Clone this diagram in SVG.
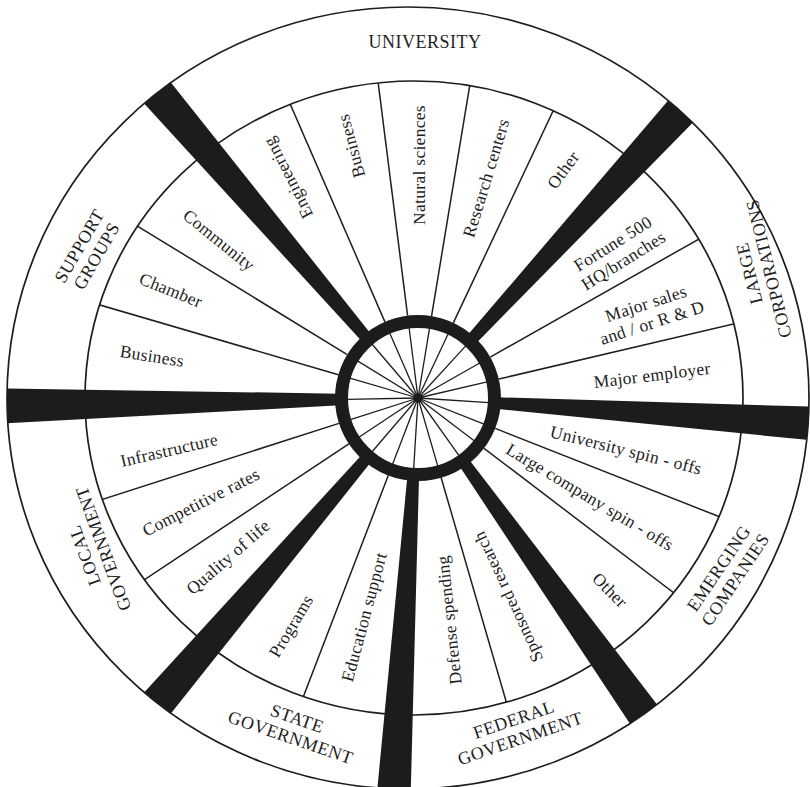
<svg xmlns="http://www.w3.org/2000/svg" xmlns:xlink="http://www.w3.org/1999/xlink" width="810" height="787" viewBox="0 0 810 787">
<style>
.ring{fill:none;stroke:#1e1e1e;stroke-width:1.7}
.thin{stroke:#1e1e1e;stroke-width:1.5}
.spoke{stroke:#1e1e1e;stroke-width:1.3}
.bar{fill:#1c1c1c}
.it{font-family:"Liberation Serif","Times New Roman",serif;font-size:17.5px;fill:#1e1e1e;text-anchor:middle;letter-spacing:0.3px}
.sec{font-family:"Liberation Serif","Times New Roman",serif;font-size:18px;fill:#1e1e1e;text-anchor:middle;letter-spacing:0.5px}
</style>
<defs>
<clipPath id="outerClip"><ellipse cx="408" cy="398" rx="401" ry="391"/></clipPath>
<clipPath id="innerClip"><ellipse cx="414" cy="398" rx="329" ry="317"/></clipPath>
<polygon id="barShape" points="78,-5.8 440,-18.4 440,18.4 78,5.8"/>
<line id="thinLine" x1="83" y1="0" x2="420" y2="0"/>
<line id="hubSpoke" x1="0" y1="0" x2="71" y2="0"/>
</defs>
<rect width="810" height="787" fill="#ffffff"/>

<g id="rings">
<ellipse class="ring" cx="408" cy="398" rx="401" ry="391"/>
<ellipse class="ring" cx="414" cy="398" rx="329" ry="317"/>
</g>

<g id="connectors">
<g clip-path="url(#innerClip)" class="thin">
<use xlink:href="#thinLine" transform="translate(418 398) rotate(-113.5)"/>
<use xlink:href="#thinLine" transform="translate(418 398) rotate(-97.2)"/>
<use xlink:href="#thinLine" transform="translate(418 398) rotate(-80.6)"/>
<use xlink:href="#thinLine" transform="translate(418 398) rotate(-64.8)"/>
<use xlink:href="#thinLine" transform="translate(418 398) rotate(-29.5)"/>
<use xlink:href="#thinLine" transform="translate(418 398) rotate(-13.2)"/>
<use xlink:href="#thinLine" transform="translate(418 398) rotate(21.5)"/>
<use xlink:href="#thinLine" transform="translate(418 398) rotate(37.3)"/>
<use xlink:href="#thinLine" transform="translate(418 398) rotate(73.8)"/>
<use xlink:href="#thinLine" transform="translate(418 398) rotate(111)"/>
<use xlink:href="#thinLine" transform="translate(418 398) rotate(146.4)"/>
<use xlink:href="#thinLine" transform="translate(418 398) rotate(162.2)"/>
<use xlink:href="#thinLine" transform="translate(418 398) rotate(196.3)"/>
<use xlink:href="#thinLine" transform="translate(418 398) rotate(211.5)"/>
</g>
<g clip-path="url(#outerClip)" class="bar">
<use xlink:href="#barShape" transform="translate(418 398) rotate(-130.5)"/>
<use xlink:href="#barShape" transform="translate(418 398) rotate(-47.5)"/>
<use xlink:href="#barShape" transform="translate(418 398) rotate(3.7)"/>
<use xlink:href="#barShape" transform="translate(418 398) rotate(54.5)"/>
<use xlink:href="#barShape" transform="translate(418 398) rotate(93.5)"/>
<use xlink:href="#barShape" transform="translate(418 398) rotate(130.5)"/>
<use xlink:href="#barShape" transform="translate(418 398) rotate(178.9)"/>
</g>
<g class="spoke">
<use xlink:href="#hubSpoke" transform="translate(418 398) rotate(-130.5)"/>
<use xlink:href="#hubSpoke" transform="translate(418 398) rotate(-113.5)"/>
<use xlink:href="#hubSpoke" transform="translate(418 398) rotate(-97.2)"/>
<use xlink:href="#hubSpoke" transform="translate(418 398) rotate(-80.6)"/>
<use xlink:href="#hubSpoke" transform="translate(418 398) rotate(-64.8)"/>
<use xlink:href="#hubSpoke" transform="translate(418 398) rotate(-47.5)"/>
<use xlink:href="#hubSpoke" transform="translate(418 398) rotate(-29.5)"/>
<use xlink:href="#hubSpoke" transform="translate(418 398) rotate(-13.2)"/>
<use xlink:href="#hubSpoke" transform="translate(418 398) rotate(3.7)"/>
<use xlink:href="#hubSpoke" transform="translate(418 398) rotate(21.5)"/>
<use xlink:href="#hubSpoke" transform="translate(418 398) rotate(37.3)"/>
<use xlink:href="#hubSpoke" transform="translate(418 398) rotate(54.5)"/>
<use xlink:href="#hubSpoke" transform="translate(418 398) rotate(73.8)"/>
<use xlink:href="#hubSpoke" transform="translate(418 398) rotate(93.5)"/>
<use xlink:href="#hubSpoke" transform="translate(418 398) rotate(111)"/>
<use xlink:href="#hubSpoke" transform="translate(418 398) rotate(130.5)"/>
<use xlink:href="#hubSpoke" transform="translate(418 398) rotate(146.4)"/>
<use xlink:href="#hubSpoke" transform="translate(418 398) rotate(162.2)"/>
<use xlink:href="#hubSpoke" transform="translate(418 398) rotate(178.9)"/>
<use xlink:href="#hubSpoke" transform="translate(418 398) rotate(196.3)"/>
<use xlink:href="#hubSpoke" transform="translate(418 398) rotate(211.5)"/>
</g>
</g>

<g id="hub">
<circle cx="418" cy="398" r="76.5" fill="none" stroke="#1c1c1c" stroke-width="13"/>
<circle cx="418" cy="398" r="4.5" fill="#1c1c1c"/>
</g>

<g id="university">
<text class="sec" x="425" y="48">UNIVERSITY</text>
<text class="it" transform="translate(288 178) rotate(-117)" dy="6">Engineering</text>
<text class="it" transform="translate(351 146) rotate(-105)" dy="6">Business</text>
<text class="it" transform="translate(419 165) rotate(-90)" dy="6">Natural sciences</text>
<text class="it" transform="translate(486 178) rotate(-73)" dy="6">Research centers</text>
<text class="it" transform="translate(563 170) rotate(-54)" dy="6">Other</text>
</g>

<g id="large-corporations">
<g transform="translate(759 271) rotate(-104)">
<text class="sec" y="-4">LARGE</text>
<text class="sec" y="16">CORPORATIONS</text>
</g>
<g transform="translate(618 252) rotate(-32)">
<text class="it" y="-4">Fortune 500</text>
<text class="it" y="16">HQ/branches</text>
</g>
<g transform="translate(649 313) rotate(-18)">
<text class="it" y="-4">Major sales</text>
<text class="it" y="16">and / or R &amp; D</text>
</g>
<text class="it" transform="translate(652 375) rotate(-7)" dy="6">Major employer</text>
</g>

<g id="emerging-companies">
<g transform="translate(727 574) rotate(-56)">
<text class="sec" y="-4">EMERGING</text>
<text class="sec" y="16">COMPANIES</text>
</g>
<text class="it" transform="translate(626 450) rotate(14)" dy="6">University spin - offs</text>
<text class="it" transform="translate(590 497) rotate(31)" dy="6">Large company spin - offs</text>
<text class="it" transform="translate(610 590) rotate(45)" dy="6">Other</text>
</g>

<g id="federal-government">
<g transform="translate(517 729) rotate(-19)">
<text class="sec" y="-4">FEDERAL</text>
<text class="sec" y="16">GOVERNMENT</text>
</g>
<text class="it" transform="translate(449 620) rotate(-96)" dy="6">Defense spending</text>
<text class="it" transform="translate(508 597) rotate(-115)" dy="6">Sponsored research</text>
</g>

<g id="state-government">
<g transform="translate(294 728) rotate(19)">
<text class="sec" y="-4">STATE</text>
<text class="sec" y="16">GOVERNMENT</text>
</g>
<text class="it" transform="translate(364 617) rotate(-75)" dy="6">Education support</text>
<text class="it" transform="translate(291 626) rotate(-59)" dy="6">Programs</text>
</g>

<g id="local-government">
<g transform="translate(94 552) rotate(-110)">
<text class="sec" y="-4">LOCAL</text>
<text class="sec" y="16">GOVERNMENT</text>
</g>
<text class="it" transform="translate(228 557) rotate(-41)" dy="6">Quality of life</text>
<text class="it" transform="translate(201 502) rotate(-27)" dy="6">Competitive rates</text>
<text class="it" transform="translate(169 450) rotate(-13)" dy="6">Infrastructure</text>
</g>

<g id="support-groups">
<g transform="translate(88 251) rotate(-60)">
<text class="sec" y="-4">SUPPORT</text>
<text class="sec" y="16">GROUPS</text>
</g>
<text class="it" transform="translate(152 356) rotate(9)" dy="6">Business</text>
<text class="it" transform="translate(171 290) rotate(22)" dy="6">Chamber</text>
<text class="it" transform="translate(219 240) rotate(39)" dy="6">Community</text>
</g>
</svg>
